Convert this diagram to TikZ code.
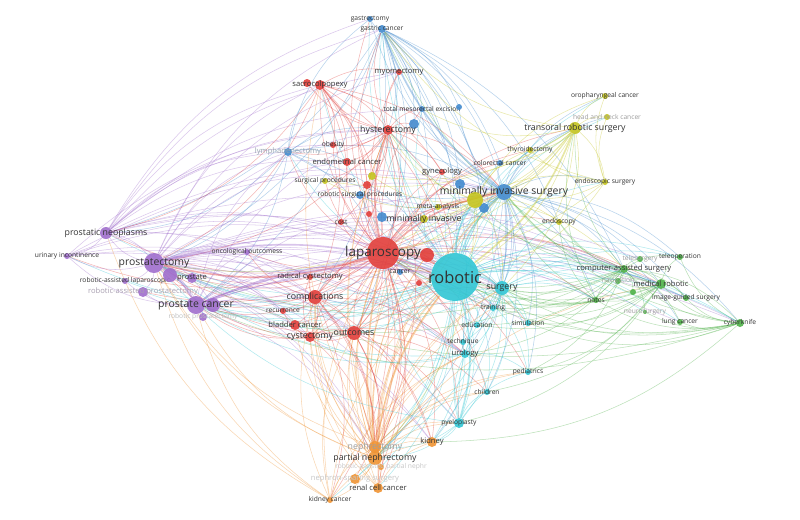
\documentclass[tikz,border=0pt]{standalone}
\usepackage{fontspec}
\setmainfont{Open Sans}
\usetikzlibrary{backgrounds}
\definecolor{redc}{RGB}{226,62,58}
\definecolor{bluec}{RGB}{66,138,206}
\definecolor{yelc}{RGB}{196,196,30}
\definecolor{purc}{RGB}{160,110,205}
\definecolor{cyac}{RGB}{48,198,212}
\definecolor{grnc}{RGB}{78,178,72}
\definecolor{orac}{RGB}{240,148,52}
\newcommand\szA{\fontsize{5.7}{6}\selectfont}
\newcommand\szB{\fontsize{6.5}{7}\selectfont}
\newcommand\szC{\fontsize{7.5}{8}\selectfont}
\newcommand\szD{\fontsize{8.9}{10}\selectfont}
\newcommand\szE{\fontsize{11.5}{12}\selectfont}
\newcommand\szF{\fontsize{14}{14}\selectfont}

\begin{document}
\begin{tikzpicture}[
    x=0.03cm, y=-0.03cm,
    kw/.style={circle, inner sep=0pt, minimum size={#1*0.06cm}, fill opacity=0.9},
    la/.style={font=\szA, text=black!80, inner sep=0pt, text opacity=1},
    lb/.style={la, font=\szB},
    lc/.style={la, font=\szC},
    ld/.style={la, font=\szD},
    fade/.style={text=black!38},
    lk/.style={line width=0.45pt, draw opacity=0.38},
    lkb/.style={line width=1.4pt, draw opacity=0.4}
]
\useasboundingbox (0,0) rectangle (800,519);

% blue cluster
\node[kw=3, fill=bluec, label={[la]center:gastrectomy}] (gastrec) at (370,19) {};
\node[kw=4, fill=bluec, label={[la]center:gastric cancer}] (gastca) at (382,29) {};
\node[kw=3, fill=bluec, label={[la]center:total mesorectal excision}] (tme) at (422,109) {};
\node[kw=3, fill=bluec] (blueA) at (459,107) {};
\node[kw=5, fill=bluec] (blueB) at (414,124) {};
\node[kw=4, fill=bluec, label={[lb, text=bluec!40!black!45]center:lymphadenectomy}] (lymph) at (288,152) {};
\node[kw=4, fill=bluec, label={[la]center:robotic surgical procedures}] (rsp) at (360,195) {};
\node[kw=5, fill=bluec] (blueC) at (382,217) {};
\node[kw=3, fill=bluec, label={[la]center:colorectal cancer}] (colo) at (500,163) {};
\node[kw=5, fill=bluec] (blueD) at (460,184) {};
\node[kw=5, fill=bluec] (blueE) at (484,208) {};
\node[kw=8, fill=bluec, label={[ld]center:minimally invasive surgery}] (mis) at (504,192) {};
\node[kw=3, fill=bluec, label={[la]center:cancer}] (cancer) at (400,272) {};

% red cluster
\node[kw=3, fill=redc, label={[lb]center:myomectomy}] (myom) at (399,72) {};
\node[kw=4, fill=redc] (redA) at (307,83) {};
\node[kw=5, fill=redc, label={[lb]center:sacrocolpopexy}] (sacro) at (320,85) {};
\node[kw=5, fill=redc, label={[lc]center:hysterectomy}] (hyst) at (388,130) {};
\node[kw=3, fill=redc, label={[la]center:obesity}] (obes) at (333,145) {};
\node[kw=4, fill=redc, label={[lb]center:endometrial cancer}] (endoca) at (347,162) {};
\node[kw=3, fill=redc, label={[lb]center:gynecology}] (gyn) at (442,172) {};
\node[kw=4, fill=redc] (redB) at (367,185) {};
\node[kw=3, fill=redc] (redC) at (369,214) {};
\node[kw=3, fill=redc, label={[la]center:cost}] (cost) at (341,222) {};
\node[kw=16, fill=redc, label={[la, font=\szE]center:laparoscopy}] (lap) at (383,253) {};
\node[kw=7, fill=redc] (redD) at (427,255) {};
\node[kw=3, fill=redc] (redE) at (419,283) {};
\node[kw=3, fill=redc, label={[lb]center:radical cystectomy}] (radcys) at (310,277) {};
\node[kw=7, fill=redc, label={[lc]center:complications}] (compl) at (315,297) {};
\node[kw=3, fill=redc, label={[la]center:recurrence}] (recur) at (283,311) {};
\node[kw=5, fill=redc, label={[lb]center:bladder cancer}] (bladder) at (295,325) {};
\node[kw=5, fill=redc, label={[lc]center:cystectomy}] (cystec) at (310,337) {};
\node[kw=7, fill=redc, label={[lc]center:outcomes}] (outc) at (354,333) {};

% yellow cluster
\node[kw=3, fill=yelc, label={[la]center:oropharyngeal cancer}] (oro) at (605,96) {};
\node[kw=3, fill=yelc, label={[la, fade]center:head and neck cancer}] (hnc) at (607,117) {};
\node[kw=6, fill=yelc, label={[lc]center:transoral robotic surgery}] (tors) at (575,128) {};
\node[kw=3, fill=yelc, label={[la]center:thyroidectomy}] (thyr) at (530,150) {};
\node[kw=3, fill=yelc, label={[la]center:endoscopic surgery}] (endsurg) at (605,182) {};
\node[kw=3, fill=yelc, label={[la]center:endoscopy}] (endosc) at (559,222) {};
\node[kw=3, fill=yelc, label={[la]center:surgical procedures}] (surgproc) at (325,181) {};
\node[kw=4, fill=yelc] (yelA) at (372,176) {};
\node[kw=8, fill=yelc] (yelB) at (475,200) {};
\node[kw=3, fill=yelc, label={[la]center:meta-analysis}] (meta) at (438,207) {};
\node[kw=4, fill=yelc, label={[lc]center:minimally invasive}] (minv) at (424,219) {};

% purple cluster
\node[kw=6, fill=purc, label={[lc]center:prostatic neoplasms}] (pneo) at (106,233) {};
\node[kw=3, fill=purc, label={[la]center:urinary incontinence}] (uinc) at (67,256) {};
\node[kw=10, fill=purc, label={[ld]center:prostatectomy}] (prtec) at (154,263) {};
\node[kw=3, fill=purc, label={[la]center:robotic-assisted laparoscopic}] (ralap) at (125,281) {};
\node[kw=7, fill=purc] (purA) at (170,275) {};
\node[kw=5, fill=purc, label={[lb]center:prostate}] (prost) at (192,278) {};
\node[kw=5, fill=purc, label={[lb, text=purc!40!black!45]center:robotic-assisted prostatectomy}] (rap) at (143,292) {};
\node[kw=7, fill=purc] (purB) at (213,305) {};
\node[kw=9, fill=purc, label={[ld]center:prostate cancer}] (pca) at (196,305) {};
\node[kw=4, fill=purc, label={[la, text=black!25]center:robotic prostatectomy}] (rp) at (203,317) {};
\node[kw=3, fill=purc, label={[la]center:oncological outcomess}] (onco) at (247,252) {};

% cyan cluster
\node[kw=24, fill=cyac, label={[la, font=\szF]center:robotic}] (rob) at (455,277) {};
\node[kw=7, fill=cyac, label={[lc]center:surgery}] (surg) at (502,288) {};
\node[kw=3, fill=cyac, label={[la]center:training}] (train) at (493,308) {};
\node[kw=3, fill=cyac, label={[la]center:education}] (educ) at (477,325) {};
\node[kw=3, fill=cyac, label={[la]center:simulation}] (simul) at (528,323) {};
\node[kw=3, fill=cyac, label={[la]center:technique}] (tech) at (463,342) {};
\node[kw=4, fill=cyac, label={[lb]center:urology}] (urol) at (465,354) {};
\node[kw=3, fill=cyac, label={[la]center:pediatrics}] (pedi) at (528,372) {};
\node[kw=3, fill=cyac, label={[la]center:children}] (child) at (487,392) {};
\node[kw=5, fill=cyac, label={[la]center:pyeloplasty}] (pyelo) at (459,423) {};

% orange cluster
\node[kw=5, fill=orac, label={[lb]center:kidney}] (kidney) at (432,442) {};
\node[kw=6, fill=orac, label={[lc, fade]center:nephrectomy}] (nephr) at (375,447) {};
\node[kw=7, fill=orac, label={[lc]center:partial nephrectomy}] (pneph) at (375,458) {};
\node[kw=3, fill=orac, label={[la, text=black!22]center:robotic-assisted partial nephr}] (rapn) at (381,467) {};
\node[kw=5, fill=orac, label={[lb, text=black!22]center:nephron-sparing surgery}] (nss) at (355,479) {};
\node[kw=5, fill=orac, label={[lb]center:renal cell cancer}] (rcc) at (378,488) {};
\node[kw=3, fill=orac, label={[la]center:kidney cancer}] (kca) at (330,500) {};

% green cluster
\node[kw=3, fill=grnc, label={[la, fade]center:telesurgery}] (teles) at (640,259) {};
\node[kw=3, fill=grnc, label={[la]center:teleoperation}] (teleop) at (680,257) {};
\node[kw=4, fill=grnc, label={[lb]center:computer-assisted surgery}] (cas) at (624,269) {};
\node[kw=3, fill=grnc, label={[la, fade]center:navigation}] (navig) at (618,281) {};
\node[kw=3, fill=grnc] (grnA) at (633,292) {};
\node[kw=5, fill=grnc, label={[lb]center:medical robotic}] (medrob) at (661,284) {};
\node[kw=3, fill=grnc, label={[la]center:image-guided surgery}] (igs) at (686,298) {};
\node[kw=3, fill=grnc, label={[la]center:notes}] (notes) at (596,300) {};
\node[kw=2, fill=grnc, label={[la, fade]center:neurosurgery}] (neuro) at (645,312) {};
\node[kw=3, fill=grnc, label={[la]center:lung cancer}] (lungca) at (680,322) {};
\node[kw=4, fill=grnc, label={[la]center:cyberknife}] (cyber) at (740,323) {};

\begin{scope}[on background layer]
\fill[white] (0,0) rectangle (800,519);
% links
\foreach \t in {rob,mis,minv,hyst,sacro,myom,prtec,pca,pneph,nephr,kidney,compl,outc,cystec,bladder,radcys,recur,endoca,obes,gyn,colo,gastca,gastrec,tme,lymph,surg,train,educ,urol,pedi,child,pyelo,rcc,kca,nss,endosc,notes,cas,medrob,thyr,tors,cost,meta,yelB,pneo,prost,onco,simul,redD,redE,redB,redC,rapn,rap,uinc,surgproc,rsp}
  \draw[lk, redc] (lap) to[bend left=20] (\t);
\foreach \t in {mis,yelB,minv,surg,train,educ,simul,tech,urol,pedi,child,pyelo,kidney,pneph,nephr,rcc,kca,prtec,pca,pneo,uinc,rap,ralap,prost,hyst,sacro,myom,gastca,gastrec,tme,colo,lymph,cas,medrob,teles,teleop,igs,notes,neuro,lungca,cyber,navig,endosc,endsurg,tors,thyr,oro,compl,outc,cystec,bladder,gyn,rsp,blueD,blueE,grnA,nss,rapn,hnc,recur,radcys}
  \draw[lk, cyac] (rob) to[bend left=20] (\t);
\foreach \t in {gastca,gastrec,tme,colo,lymph,rsp,minv,hyst,endosc,endsurg,thyr,tors,oro,surg,train,pedi,cas,medrob,notes,cyber,lungca,prtec,pca,pneph,kidney,child,educ,simul,blueC,blueA,blueB,teleop,igs,hnc,urol}
  \draw[lk, bluec] (mis) to[bend left=20] (\t);
\foreach \t in {lap,rob,lymph,colo,tme,surg,hyst,blueB,pca,compl,outc,cas,endosc,gastrec,blueA,blueD,pneo,prtec,tech,mis,minv,blueE}
  \draw[lk, bluec] (gastca) to[bend left=20] (\t);
\foreach \t in {lap,rob,mis,prtec,pca,hyst,endoca,sacro,pneo,gastrec}
  \draw[lk, bluec] (lymph) to[bend left=20] (\t);
\foreach \t in {pca,pneo,uinc,prost,ralap,rap,rp,onco,compl,outc,cystec,bladder,radcys,recur,mis,hyst,sacro,lymph,pneph,kidney,train,urol,surg,gastca,myom,endoca,cas,medrob,simul,educ,pyelo,nephr,purA,purB,teles,cyber,igs,notes}
  \draw[lk, purc] (prtec) to[bend left=20] (\t);
\foreach \t in {prtec,pca,uinc,lymph,hyst,gastca,lap,rob,mis,surg,compl,sacro,endoca,tme,myom,gastrec,cas,urol,obes}
  \draw[lk, purc] (pneo) to[bend left=20] (\t);
\foreach \t in {rob,lap,compl,outc,radcys,cystec,bladder,onco,urol,surg,pneph,kidney,mis,medrob,lungca,cyber,igs,train,hyst,lymph,uinc,ralap,rap,rp}
  \draw[lk, purc] (pca) to[bend left=20] (\t);
\foreach \t in {lap,rob,mis,compl,outc,hyst,urol}
  \draw[lk, purc] (uinc) to[bend left=20] (\t);
\foreach \t in {lap,rob,kidney,nephr,rcc,kca,nss,rapn,outc,compl,mis,pyelo,urol,prtec,pca,cystec,surg,train,child,pedi,bladder,radcys,hyst,medrob,redE,cancer,redD}
  \draw[lk, orac] (pneph) to[bend left=20] (\t);
\foreach \t in {lap,rob,kidney,pyelo,child,pedi,mis,hyst,prtec,urol,gyn,minv,surg,compl,redD,sacro}
  \draw[lk, orac] (nephr) to[bend left=20] (\t);
\foreach \t in {lap,rob,compl,outc,prtec,kidney,nephr,pca,urol,pneo}
  \draw[lk, orac] (kca) to[bend left=20] (\t);
\foreach \t in {lap,rob,compl,outc,mis,kidney,cystec}
  \draw[lk, orac] (rcc) to[bend left=20] (\t);
\foreach \t in {rob,lap,mis,surg,medrob,teles,teleop,navig,igs,notes,neuro,lungca,cyber,endosc,train,simul,educ,prtec,urol,pca,tors,hyst,gastca,grnA,pedi,yelB}
  \draw[lk, grnc] (cas) to[bend left=20] (\t);
\foreach \t in {lungca,igs,medrob,rob,pca,surg,neuro,cas,prtec,lap,mis,teleop,kidney,notes,simul}
  \draw[lk, grnc] (cyber) to[bend left=20] (\t);
\foreach \t in {rob,mis,surg,simul,notes,endosc,train,pedi,urol,lap,teleop,educ,pyelo,child,igs,navig}
  \draw[lk, grnc] (medrob) to[bend left=20] (\t);
\foreach \t in {rob,lap,mis,surg,cas,endosc,tors}
  \draw[lk, grnc] (notes) to[bend left=20] (\t);
\foreach \t in {oro,hnc,thyr,endsurg,endosc,rob,mis,lap,minv,surgproc,yelA,meta,surg,yelB,gastca,tme,colo}
  \draw[lk, yelc] (tors) to[bend left=20] (\t);
\foreach \t in {rob,lap,minv,surgproc,yelA,meta,hyst,gyn,surg,prtec,pneph,endosc,thyr,oro,endsurg,cas}
  \draw[lk, yelc] (yelB) to[bend left=20] (\t);
\foreach \t in {rob,lap,mis,oro,hnc,thyr,gastca}
  \draw[lk, yelc] (endsurg) to[bend left=20] (\t);
\foreach \t in {sacro,myom,endoca,obes,gyn,lap,rob,mis,cost,lymph,tme,gastca,prtec,surgproc,compl,outc,pneph,redA,blueB,yelA}
  \draw[lk, redc] (hyst) to[bend left=20] (\t);
\foreach \t in {rob,lap,mis,hyst,myom,endoca,obes,prtec,compl,gyn,cost,redB,redC,pneo}
  \draw[lk, redc] (sacro) to[bend left=20] (\t);
\foreach \t in {outc,cystec,bladder,radcys,recur,prtec,pca,rob,lap,pneph,kidney,nephr,mis,rcc,kca,urol,onco}
  \draw[lk, redc] (compl) to[bend left=20] (\t);
\foreach \t in {pneph,rob,nephr,rcc,prtec,pca,lap,mis,cystec,surg,kidney,train,pyelo,child}
  \draw[lk, redc] (outc) to[bend left=20] (\t);
\foreach \t in {bladder,radcys,rob,lap,prtec,pca,pneph,outc,urol,recur}
  \draw[lk, redc] (cystec) to[bend left=20] (\t);
\foreach \t in {train,educ,simul,tech,urol,pedi,child,cas,medrob,lap,mis,pyelo,prtec,pca,pneph,endosc,notes,teleop,gastca,hyst,cyber}
  \draw[lk, cyac] (surg) to[bend left=20] (\t);
\foreach \t in {pedi,child,kidney,nephr,pneph,urol,lap,mis,surg,prtec}
  \draw[lk, cyac] (pyelo) to[bend left=20] (\t);
\foreach \t in {pedi,child,tech,prtec,pca,kidney,lap,cystec}
  \draw[lk, cyac] (urol) to[bend left=20] (\t);
% strong links
\draw[lkb, redc] (lap) to[bend left=15] (rob);
\draw[lkb, redc] (lap) to[bend left=15] (mis);
\draw[lkb, redc] (lap) to[bend left=15] (prtec);
\draw[lkb, redc] (lap) to[bend left=15] (hyst);
\draw[lkb, orac] (pneph) to[bend left=10] (lap);
\draw[lkb, orac] (pneph) to[bend left=15] (rob);
\draw[lkb, cyac] (rob) to[bend left=15] (mis);
\draw[lkb, cyac] (rob) to[bend left=15] (surg);
\draw[lkb, cyac] (rob) to[bend left=15] (yelB);
\draw[lkb, cyac] (rob) to[bend left=15] (pyelo);
\draw[lkb, purc] (prtec) to[bend left=15] (rob);
\draw[lkb, purc] (prtec) to[bend left=15] (pca);
\draw[lkb, purc] (pca) to[bend left=15] (rob);
\draw[lkb, bluec] (mis) to[bend left=15] (gastca);
\draw[lkb, yelc] (tors) to[bend left=15] (rob);
\end{scope}

\end{tikzpicture}
\end{document}
